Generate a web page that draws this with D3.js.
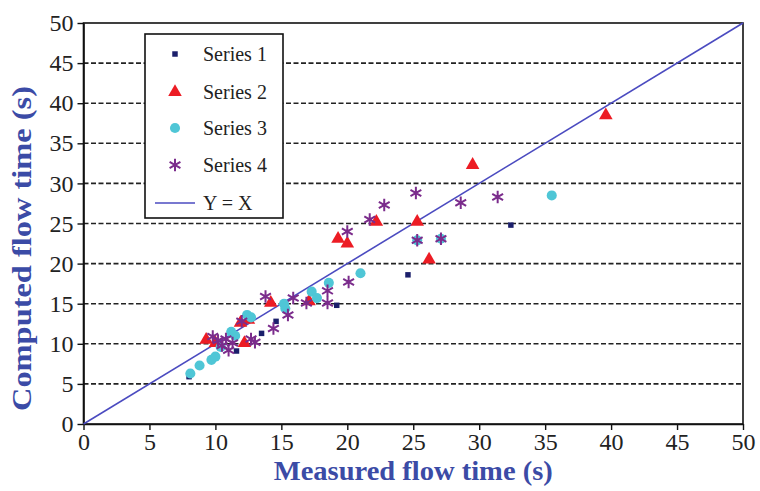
<!DOCTYPE html>
<html>
<head>
<meta charset="utf-8">
<script src="https://cdn.jsdelivr.net/npm/d3@7"></script>
<style>
  body { margin: 0; background: #fff; }
  svg text { font-family: "Liberation Serif", "DejaVu Serif", serif; }
</style>
</head>
<body>
<div id="chart"></div>
<script>
// Data: [measured, computed]
const series1 = [[8.0, 5.9], [11.6, 9.1], [13.5, 11.3], [14.6, 12.8], [19.2, 14.8], [24.6, 18.6], [32.4, 24.8]];
const series2 = [[9.3, 10.5], [10.0, 10.1], [11.9, 12.6], [12.2, 10.1], [12.5, 13.0], [14.2, 15.1], [17.1, 15.3],
  [19.3, 23.1], [20.0, 22.5], [22.2, 25.2], [25.3, 25.2], [26.2, 20.5], [29.5, 32.3], [39.6, 38.5]];
const series3 = [[8.1, 6.3], [8.8, 7.3], [9.7, 8.0], [10.0, 8.4], [10.4, 9.6], [11.2, 11.5], [11.5, 11.0],
  [12.4, 13.6], [12.7, 13.3], [15.2, 15.0], [15.3, 14.4], [17.3, 16.5], [17.7, 15.7], [18.6, 17.6],
  [21.0, 18.8], [25.3, 22.9], [27.1, 23.1], [35.5, 28.5]];
const series4 = [[9.8, 10.9], [10.2, 10.4], [10.5, 9.8], [10.8, 10.6], [11.0, 9.2], [11.3, 10.1], [12.0, 12.8],
  [12.7, 10.6], [13.0, 10.2], [13.8, 15.9], [14.4, 11.9], [15.5, 13.6], [15.9, 15.7], [16.9, 15.1],
  [18.5, 15.1], [18.5, 16.6], [20.1, 17.7], [20.0, 24.0], [21.7, 25.5], [22.8, 27.3], [25.2, 28.8],
  [25.3, 22.9], [27.1, 23.1], [28.6, 27.6], [31.4, 28.3]];
const ticks = [0, 5, 10, 15, 20, 25, 30, 35, 40, 45, 50];
const legendLabels = ["Series 1", "Series 2", "Series 3", "Series 4", "Y = X"];

const width = 760, height = 491;
const margin = {top: 23, right: 17, bottom: 67, left: 83.5};

const svg = d3.select("#chart").append("svg")
  .attr("width", width)
  .attr("height", height);

const x = d3.scaleLinear().domain([0, 50]).range([margin.left, width - margin.right]);
const y = d3.scaleLinear().domain([0, 50]).range([height - margin.bottom, margin.top]);

// dashed grid
svg.append("g").selectAll("line")
  .data(ticks.filter(t => t > 0 && t < 50))
  .enter().append("line")
  .attr("x1", x(0)).attr("x2", x(50))
  .attr("y1", d => y(d)).attr("y2", d => y(d))
  .attr("stroke", "#222")
  .attr("stroke-width", 1.6)
  .attr("stroke-dasharray", "5,2.5");

// frame
svg.append("rect")
  .attr("x", x(0)).attr("y", y(50))
  .attr("width", x(50) - x(0)).attr("height", y(0) - y(50))
  .attr("fill", "none")
  .attr("stroke", "#111")
  .attr("stroke-width", 1.6);

// axes
const xAxis = svg.append("g")
  .attr("transform", `translate(0,${y(0)})`)
  .call(d3.axisBottom(x).tickValues(ticks).tickSize(6).tickPadding(3).tickSizeOuter(0));
const yAxis = svg.append("g")
  .attr("transform", `translate(${x(0)},0)`)
  .call(d3.axisLeft(y).tickValues(ticks).tickSize(6).tickPadding(4).tickSizeOuter(0));
[xAxis, yAxis].forEach(g => {
  g.select(".domain").attr("stroke", "#111").attr("stroke-width", 1.6);
  g.selectAll(".tick line").attr("stroke", "#111").attr("stroke-width", 1.4);
  g.selectAll(".tick text")
    .attr("fill", "#222")
    .style("font-size", "24px")
    .style("font-family", "Liberation Serif, serif");
});

// Y = X line
svg.append("line")
  .attr("x1", x(0)).attr("y1", y(0))
  .attr("x2", x(50)).attr("y2", y(50))
  .attr("stroke", "#4b4bc0")
  .attr("stroke-width", 1.6);

// markers
const colors = ["#1b1f6b", "#ec1c24", "#4fc6d6", "#7b2c8c"];
const shapes = [
  d3.symbol().type(d3.symbolSquare).size(30),
  d3.symbol().type(d3.symbolTriangle).size(80),
  d3.symbol().type(d3.symbolCircle).size(80),
  d3.symbol().type(d3.symbolAsterisk).size(110)
];

function drawSeries(data, i) {
  const g = svg.append("g");
  const p = g.selectAll("path").data(data).enter().append("path")
    .attr("d", shapes[i])
    .attr("transform", d => `translate(${x(d[0])},${y(d[1])})`);
  if (i === 3) {
    p.attr("fill", "none").attr("stroke", colors[i]).attr("stroke-width", 2);
  } else {
    p.attr("fill", colors[i]);
  }
}
drawSeries(series1, 0);
drawSeries(series2, 1);
drawSeries(series3, 2);
drawSeries(series4, 3);

// legend
const legend = svg.append("g");
legend.append("rect")
  .attr("x", 145).attr("y", 34)
  .attr("width", 138).attr("height", 184)
  .attr("fill", "#fff")
  .attr("stroke", "#111")
  .attr("stroke-width", 1.6);
const rowY = [54, 92, 128, 165, 203];
legendLabels.forEach((lab, i) => {
  if (i < 4) {
    const p = legend.append("path")
      .attr("d", shapes[i])
      .attr("transform", `translate(175,${rowY[i]})`);
    if (i === 3) p.attr("fill", "none").attr("stroke", colors[i]).attr("stroke-width", 2);
    else p.attr("fill", colors[i]);
  } else {
    legend.append("line")
      .attr("x1", 155).attr("x2", 195)
      .attr("y1", rowY[i]).attr("y2", rowY[i])
      .attr("stroke", "#4b4bc0").attr("stroke-width", 1.6);
  }
  legend.append("text")
    .attr("x", 203).attr("y", rowY[i])
    .attr("dy", "0.35em")
    .attr("fill", "#222")
    .style("font-size", "20px")
    .text(lab);
});

// axis titles
svg.append("text")
  .attr("x", (x(0) + x(50)) / 2)
  .attr("y", 480)
  .attr("text-anchor", "middle")
  .attr("textLength", 279)
  .attr("lengthAdjust", "spacingAndGlyphs")
  .attr("fill", "#3b4ba6")
  .style("font-size", "27px")
  .style("font-weight", "bold")
  .text("Measured flow time (s)");

svg.append("text")
  .attr("transform", `translate(31,${(y(0) + y(50)) / 2 + 25}) rotate(-90)`)
  .attr("text-anchor", "middle")
  .attr("textLength", 325)
  .attr("lengthAdjust", "spacingAndGlyphs")
  .attr("fill", "#3b4ba6")
  .style("font-size", "28px")
  .style("font-weight", "bold")
  .text("Computed flow time (s)");
</script>
</body>
</html>
